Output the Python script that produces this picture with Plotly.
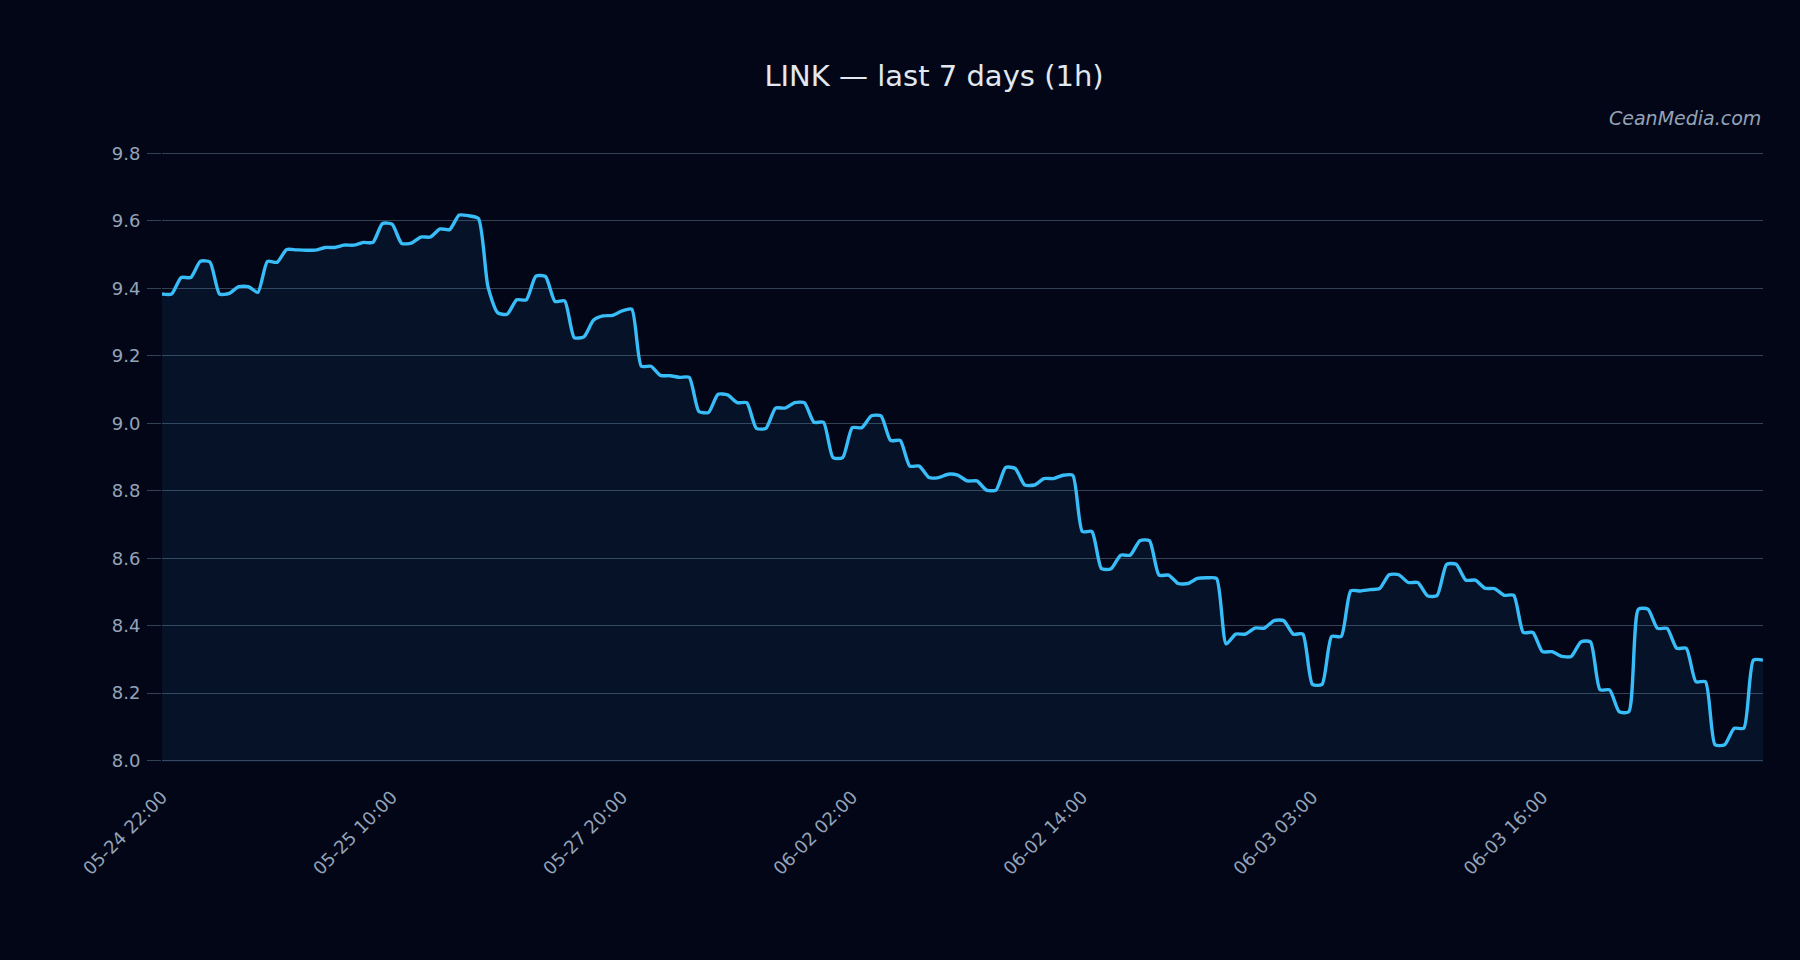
import plotly.graph_objects as go

# LINK hourly close, last 7 days (168 points)
prices = [
    9.383, 9.383, 9.432, 9.432, 9.480, 9.478, 9.383, 9.385, 9.405, 9.405,
    9.388, 9.480, 9.477, 9.515, 9.514, 9.513, 9.513, 9.521, 9.521, 9.528,
    9.528, 9.536, 9.536, 9.592, 9.590, 9.533, 9.534, 9.552, 9.552, 9.576,
    9.574, 9.617, 9.615, 9.607, 9.405, 9.328, 9.323, 9.366, 9.366, 9.436,
    9.435, 9.361, 9.363, 9.254, 9.256, 9.305, 9.318, 9.320, 9.333, 9.338,
    9.169, 9.169, 9.142, 9.141, 9.136, 9.136, 9.035, 9.032, 9.086, 9.084,
    9.061, 9.061, 8.985, 8.985, 9.045, 9.045, 9.061, 9.061, 9.003, 9.003,
    8.898, 8.898, 8.987, 8.987, 9.022, 9.022, 8.949, 8.949, 8.873, 8.873,
    8.839, 8.839, 8.849, 8.846, 8.829, 8.829, 8.802, 8.802, 8.869, 8.866,
    8.817, 8.817, 8.836, 8.836, 8.846, 8.846, 8.679, 8.679, 8.569, 8.569,
    8.609, 8.609, 8.652, 8.652, 8.550, 8.550, 8.525, 8.525, 8.540, 8.542,
    8.540, 8.346, 8.375, 8.375, 8.393, 8.393, 8.415, 8.415, 8.375, 8.375,
    8.226, 8.226, 8.368, 8.368, 8.503, 8.503, 8.507, 8.510, 8.551, 8.551,
    8.528, 8.528, 8.489, 8.489, 8.582, 8.582, 8.535, 8.535, 8.511, 8.510,
    8.490, 8.490, 8.380, 8.380, 8.323, 8.323, 8.309, 8.309, 8.352, 8.352,
    8.210, 8.210, 8.145, 8.145, 8.449, 8.449, 8.392, 8.392, 8.333, 8.333,
    8.234, 8.234, 8.047, 8.047, 8.096, 8.096, 8.298, 8.298,
]

tick_labels = [
    "05-24 22:00", "05-25 10:00", "05-27 20:00", "06-02 02:00",
    "06-02 14:00", "06-03 03:00", "06-03 16:00",
]
tick_step = 24

x_idx = list(range(len(prices)))
tick_pos = x_idx[::tick_step][: len(tick_labels)]

FONT = "DejaVu Sans, Verdana, sans-serif"
MUTED = "#94a3b8"
GRID = "#334155"
BG = "#020617"

fig = go.Figure(
    go.Scatter(
        x=x_idx,
        y=prices,
        mode="lines",
        line=dict(color="#38bdf8", width=3.4, shape="spline", smoothing=0.6),
        fill="tozeroy",
        fillcolor="rgba(56,189,248,0.07)",
        hoverinfo="skip",
    )
)

fig.update_layout(
    width=1800,
    height=960,
    paper_bgcolor=BG,
    plot_bgcolor=BG,
    margin=dict(l=162, r=37, t=152, b=198),
    showlegend=False,
    font=dict(family=FONT, color=MUTED, size=18),
    title=dict(
        text="LINK — last 7 days (1h)",
        x=934 / 1800,
        xref="container",
        xanchor="center",
        y=1 - 76 / 960,
        yref="container",
        yanchor="middle",
        font=dict(family=FONT, size=29, color="#e2e8f0"),
    ),
    xaxis=dict(
        range=[0, len(prices) - 1],
        tickmode="array",
        tickvals=tick_pos,
        ticktext=tick_labels,
        tickangle=-45,
        showgrid=False,
        zeroline=False,
        showline=False,
        ticks="",
        ticklabelstandoff=20,
        tickfont=dict(family=FONT, size=18, color=MUTED),
    ),
    yaxis=dict(
        range=[7.996, 9.804],
        dtick=0.2,
        tick0=8.0,
        tickformat=".1f",
        showgrid=True,
        gridcolor=GRID,
        gridwidth=1,
        zeroline=False,
        showline=False,
        ticks="outside",
        ticklen=14,
        tickcolor=GRID,
        ticklabelstandoff=3,
        tickfont=dict(family=FONT, size=18, color=MUTED),
    ),
    annotations=[
        dict(
            text="CeanMedia.com",
            xref="paper",
            yref="paper",
            x=1.0,
            y=1.056,
            xanchor="right",
            yanchor="middle",
            showarrow=False,
            font=dict(family=FONT, size=19, color=MUTED, style="italic"),
        )
    ],
)

fig.write_html("out.html")
